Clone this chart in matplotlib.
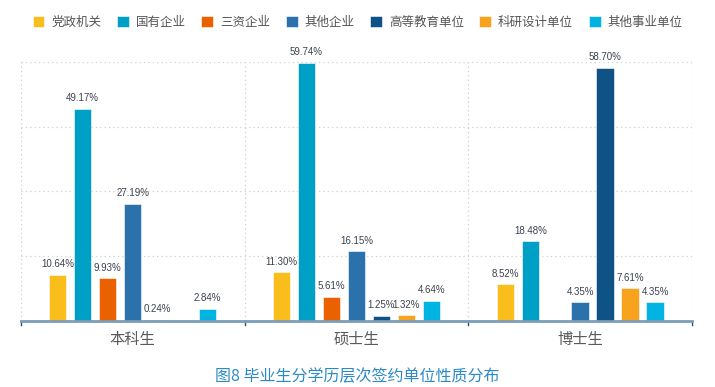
import numpy as np
import matplotlib.pyplot as plt

plt.rcParams['font.family'] = ['Noto Sans CJK SC', 'DejaVu Sans']

# 数据
categories = ['本科生', '硕士生', '博士生']
series_names = ['党政机关', '国有企业', '三资企业', '其他企业', '高等教育单位', '科研设计单位', '其他事业单位']
colors = ['#F9BE1C', '#009FC6', '#EB6100', '#2B71AC', '#0F5285', '#F8A31E', '#00B3E3']

undergrad = [10.64, 49.17, 9.93, 27.19, 0.24, np.nan, 2.84]
master = [11.30, 59.74, 5.61, 16.15, 1.25, 1.32, 4.64]
doctor = [8.52, 18.48, np.nan, 4.35, 58.70, 7.61, 4.35]
values = np.array([undergrad, master, doctor])

fig = plt.figure(figsize=(7.15, 3.87), dpi=100)
ax = fig.add_axes([0.029, 0.1705, 0.939, 0.6695])

slot = 0.1116
width = 0.078
x = np.arange(len(categories))

for i, name in enumerate(series_names):
    pos = x + (i - 3) * slot
    vals = values[:, i]
    ax.bar(pos, np.nan_to_num(vals), width, color=colors[i], label=name,
           edgecolor='white', linewidth=0.4, zorder=3)
    for p, v in zip(pos, vals):
        if np.isnan(v):
            continue
        ax.text(p, v + 1.3, f'{v:.2f}%', ha='center', va='bottom',
                fontsize=7, color='#3a4150', family=['Liberation Sans'], zorder=4)

ax.set_xlim(-0.5, 2.5)
ax.set_ylim(0, 60)
ax.set_yticks([15, 30, 45, 60])
ax.set_xticks(x)
ax.set_xticklabels(categories, fontsize=11, color='#5a5a5a')
ax.tick_params(axis='x', length=0, pad=7)
ax.tick_params(axis='y', length=0, labelleft=False)
ax.grid(axis='y', linestyle=(0, (1, 2.5)), color='#cfcfcf', linewidth=0.9, zorder=0)
for b in [-0.5, 0.5, 1.5, 2.5]:
    ax.axvline(b, linestyle=(0, (1, 2.5)), color='#cfcfcf', linewidth=0.9, zorder=0)
    ax.plot([b, b], [0, -0.9], color='#1f4f80', linewidth=1, clip_on=False, zorder=5)

for s in ['top', 'right', 'left']:
    ax.spines[s].set_visible(False)
ax.spines['bottom'].set_color('#7d9db6')
ax.spines['bottom'].set_linewidth(2)
ax.spines['bottom'].set_zorder(5)

fig.legend(loc='center', bbox_to_anchor=(0.5, 0.943), ncol=7, frameon=False,
           fontsize=9, handlelength=0.95, handleheight=0.95, handletextpad=0.55,
           columnspacing=1.25, labelcolor='#555555')

fig.text(0.5, 0.028, '图8 毕业生分学历层次签约单位性质分布', ha='center', va='center',
         fontsize=11.5, color='#2B8AC6', fontweight='medium')

fig.savefig('out.png', dpi=100)
